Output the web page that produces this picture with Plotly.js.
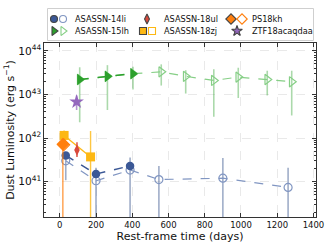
<!DOCTYPE html>
<html>
<head>
<meta charset="utf-8">
<script src="https://cdn.plot.ly/plotly-3.0.1.min.js"></script>
<style>html,body{margin:0;padding:0;background:#fff;}#chart{width:332px;height:249px;}</style>
</head>
<body>
<div id="chart"></div>
<script>
// ---- data (rest-frame days, dust luminosity erg/s) ----
var t14liFilled = [33, 200, 388];
var L14liFilled = [4.0e41, 1.5e41, 2.3e41];
var t14liOpen = [33, 200, 388, 547, 900, 1260];
var L14liOpen = [3.0e41, 1.05e41, 1.85e41, 1.12e41, 1.2e41, 7.4e40];
var L14liOpenHi = [4.8e41, 2.1e41, 3.6e41, 2.3e41, 3.5e41, 2.1e41];
var L14liOpenLo = [1.08e41, 1e39, 1e39, 1e39, 1e39, 1e39];

var t15lhFilled = [110, 263, 404];
var L15lhFilled = [2.2e43, 2.6e43, 3.0e43];
var t15lhOpen = [110, 263, 404, 560, 695, 850, 985, 1145, 1280];
var L15lhOpen = [2.2e43, 2.6e43, 3.0e43, 3.3e43, 2.6e43, 2.1e43, 2.5e43, 2.2e43, 1.95e43];
var L15lhHi = [4.2e43, 4.7e43, 4.3e43, 4.9e43, 3.6e43, 3.8e43, 4.1e43, 3.5e43, 3.5e43];
var L15lhLo = [2.3e42, 4.4e42, 1.3e43, 1.6e43, 1.05e43, 3.1e42, 8.3e42, 9.5e42, 3.3e42];

var t18ul = [95];
var L18ul = [5.3e41];
var L18ulHi = [8.0e41];
var L18ulLo = [3.7e41];

var t18zj = [24, 170];
var L18zj = [1.15e42, 3.7e41];
var L18zjHi = [1.5e42, 1.45e42];
var L18zjLo = [9.5e41, 1e39];

var tPS18khFilled = [17];
var LPS18khFilled = [7.2e41];
var LPS18khHi = [9.0e41];
var LPS18khLo = [1e39];
var tPS18khOpen = [22];
var LPS18khOpen = [7.0e41];

var tZTF = [93];
var LZTF = [6.8e42];
var LZTFHi = [9.5e42];
var LZTFLo = [4.4e42];

var xTickVals = [0, 200, 400, 600, 800, 1000, 1200, 1400];
var legendNames = ['ASASSN-14li', 'ASASSN-18ul', 'PS18kh', 'ASASSN-15lh', 'ASASSN-18zj', 'ZTF18acaqdaa'];

// ---- colours ----
var cBlue = '#3b5896', cBlueL = '#8196c2', cBlueE = 'rgba(80,105,155,0.55)';
var cGreen = '#2ca02c', cGreenL = '#86cf86', cGreenE = 'rgba(44,160,44,0.4)';
var cRed = '#d9493b', cYellow = '#fdb813', cOrange = '#ff7f0e', cPurple = '#9467bd';

function diffUp(v, hi) { return v.map(function (x, i) { return hi[i] - x; }); }
function diffDn(v, lo) { return v.map(function (x, i) { return x - lo[i]; }); }

var traces = [];
// ASASSN-15lh open (all points)
traces.push({x: t15lhOpen, y: L15lhOpen, mode: 'lines+markers', type: 'scatter',
  line: {color: cGreenL, width: 1.2, dash: 'dash'},
  marker: {symbol: 'triangle-right-open', size: 9, color: cGreenL, line: {width: 1.2}},
  error_y: {type: 'data', symmetric: false, array: diffUp(L15lhOpen, L15lhHi), arrayminus: diffDn(L15lhOpen, L15lhLo), color: cGreenE, thickness: 1.6, width: 0},
  showlegend: false});
traces.push({x: t15lhFilled, y: L15lhFilled, mode: 'lines+markers', type: 'scatter',
  line: {color: cGreen, width: 1.5, dash: 'dash'},
  marker: {symbol: 'triangle-right', size: 10, color: cGreen},
  showlegend: false});
// ASASSN-14li
traces.push({x: t14liOpen, y: L14liOpen, mode: 'lines+markers', type: 'scatter',
  line: {color: cBlueL, width: 1.2, dash: 'dash'},
  marker: {symbol: 'circle-open', size: 8, color: cBlueL, line: {width: 1.2}},
  error_y: {type: 'data', symmetric: false, array: diffUp(L14liOpen, L14liOpenHi), arrayminus: diffDn(L14liOpen, L14liOpenLo), color: cBlueE, thickness: 1.6, width: 0},
  showlegend: false});
traces.push({x: t14liFilled, y: L14liFilled, mode: 'lines+markers', type: 'scatter',
  line: {color: cBlue, width: 1.5, dash: 'dash'},
  marker: {symbol: 'circle', size: 8.5, color: cBlue},
  showlegend: false});
// ASASSN-18zj
traces.push({x: t18zj, y: L18zj, mode: 'lines+markers', type: 'scatter',
  line: {color: cYellow, width: 1.3},
  marker: {symbol: 'square', size: 9, color: cYellow},
  error_y: {type: 'data', symmetric: false, array: diffUp(L18zj, L18zjHi), arrayminus: diffDn(L18zj, L18zjLo), color: 'rgba(253,184,19,0.8)', thickness: 1.4, width: 0},
  showlegend: false});
// PS18kh
traces.push({x: tPS18khOpen, y: LPS18khOpen, mode: 'markers', type: 'scatter',
  marker: {symbol: 'diamond-open', size: 9, color: cOrange, line: {width: 1.2}},
  showlegend: false});
traces.push({x: tPS18khFilled, y: LPS18khFilled, mode: 'markers', type: 'scatter',
  marker: {symbol: 'diamond', size: 10, color: cOrange},
  error_y: {type: 'data', symmetric: false, array: diffUp(LPS18khFilled, LPS18khHi), arrayminus: diffDn(LPS18khFilled, LPS18khLo), color: 'rgba(255,127,14,0.75)', thickness: 1.4, width: 0},
  showlegend: false});
// ASASSN-18ul
traces.push({x: t18ul, y: L18ul, mode: 'markers', type: 'scatter',
  marker: {symbol: 'diamond-tall', size: 8, color: cRed},
  error_y: {type: 'data', symmetric: false, array: diffUp(L18ul, L18ulHi), arrayminus: diffDn(L18ul, L18ulLo), color: cRed, thickness: 1.4, width: 0},
  showlegend: false});
// ZTF18acaqdaa
traces.push({x: tZTF, y: LZTF, mode: 'markers', type: 'scatter',
  marker: {symbol: 'star', size: 11, color: cPurple},
  error_y: {type: 'data', symmetric: false, array: diffUp(LZTF, LZTFHi), arrayminus: diffDn(LZTF, LZTFLo), color: 'rgba(148,103,189,0.7)', thickness: 1.6, width: 0},
  showlegend: false});

// ---- custom legend, on a pixel-space overlay subplot ----
var legRows = [19, 31];
var legMarkers = [
  {x: [54], y: [legRows[0]], s: 'circle', c: cBlue, sz: 7},
  {x: [63], y: [legRows[0]], s: 'circle-open', c: cBlueL, sz: 7},
  {x: [147], y: [legRows[0]], s: 'diamond-tall', c: cRed, sz: 7},
  {x: [231], y: [legRows[0]], s: 'diamond', c: cOrange, sz: 8},
  {x: [242], y: [legRows[0]], s: 'diamond-open', c: cOrange, sz: 8},
  {x: [54], y: [legRows[1]], s: 'triangle-right', c: cGreen, sz: 8},
  {x: [63], y: [legRows[1]], s: 'triangle-right-open', c: cGreenL, sz: 8},
  {x: [143], y: [legRows[1]], s: 'square', c: cYellow, sz: 7},
  {x: [152], y: [legRows[1]], s: 'square-open', c: cYellow, sz: 7},
  {x: [237], y: [legRows[1]], s: 'star', c: cPurple, sz: 8}
];
legMarkers.forEach(function (m) {
  traces.push({x: m.x, y: m.y, xaxis: 'x2', yaxis: 'y2', mode: 'markers', type: 'scatter',
    marker: {symbol: m.s, size: m.sz, color: m.c, line: {width: 1.1}}, showlegend: false, hoverinfo: 'skip'});
});
var legTextX = [73, 162, 250];
var annotations = [];
legendNames.forEach(function (n, i) {
  annotations.push({x: legTextX[i % 3], y: legRows[Math.floor(i / 3)], xref: 'x2', yref: 'y2', text: n,
    showarrow: false, xanchor: 'left', yanchor: 'middle', font: {size: 8.2, color: '#111', family: 'DejaVu Sans'}});
});

var font = 'DejaVu Sans, sans-serif';
var layout = {
  width: 332, height: 249,
  margin: {l: 0, r: 0, t: 0, b: 0},
  paper_bgcolor: '#fff', plot_bgcolor: 'rgba(0,0,0,0)',
  font: {family: font, color: '#111'},
  showlegend: false,
  xaxis: {domain: [44 / 332, 316 / 332], range: [-87, 1414], tickvals: xTickVals,
    ticks: 'inside', ticklen: 4, tickwidth: 1, tickcolor: '#333', mirror: 'allticks', showline: true,
    linecolor: '#333', linewidth: 1, showgrid: true, gridcolor: '#e4e4e4', griddash: 'dash', gridwidth: 0.8,
    zeroline: false, tickfont: {size: 8.5, family: font, color: '#111'}, automargin: false,
    title: {text: 'Rest-frame time (days)', font: {size: 11, family: font, color: '#111'}, standoff: 3}, anchor: 'y'},
  yaxis: {domain: [(249 - 217) / 249, (249 - 43) / 249], type: 'log', range: [40.19, 44.18], dtick: 1,
    exponentformat: 'power', ticks: 'inside', ticklen: 4, tickwidth: 1, tickcolor: '#333', mirror: 'allticks',
    showline: true, linecolor: '#333', linewidth: 1, showgrid: true, gridcolor: '#e4e4e4', griddash: 'dash', gridwidth: 0.8,
    zeroline: false, tickfont: {size: 8.5, family: font, color: '#111'}, automargin: false,
    minor: {ticks: 'inside', ticklen: 2, tickcolor: '#333', showgrid: false},
    title: {text: 'Dust Luminosity (erg s<sup>\u22121</sup>)', font: {size: 11, family: font, color: '#111'}, standoff: 1}, anchor: 'x'},
  xaxis2: {domain: [0, 1], range: [0, 332], visible: false, fixedrange: true, anchor: 'y2'},
  yaxis2: {domain: [0, 1], range: [249, 0], visible: false, fixedrange: true, anchor: 'x2'},
  shapes: [{type: 'rect', xref: 'x2', yref: 'y2', x0: 47.5, x1: 313.5, y0: 8.5, y1: 40.5,
    line: {color: '#cfcfcf', width: 1}, fillcolor: 'rgba(255,255,255,0.9)', layer: 'below'}],
  annotations: annotations
};
Plotly.newPlot('chart', traces, layout, {displayModeBar: false, staticPlot: true});
</script>
</body>
</html>
